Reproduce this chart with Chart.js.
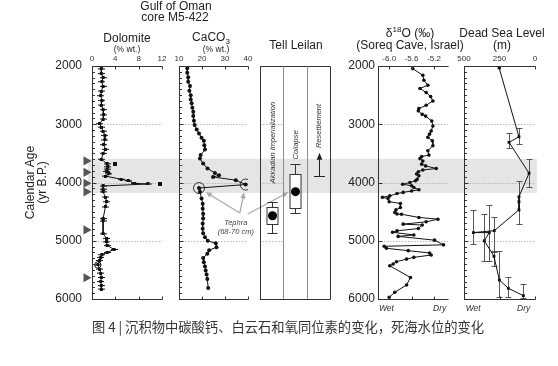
<!DOCTYPE html>
<html lang="zh">
<head>
<meta charset="utf-8">
<title>Gulf of Oman core M5-422</title>
<script src="https://cdn.jsdelivr.net/npm/chart.js@4.4.1/dist/chart.umd.min.js"></script>
<style>
  html, body { margin: 0; padding: 0; background: #fff; }
  #fig { position: relative; width: 558px; height: 366px; overflow: hidden; font-family: "Liberation Sans", Arial, sans-serif; color: #222; }
  #fig canvas { position: absolute; left: 0; top: 0; }
  .t { position: absolute; transform: translateX(-50%); white-space: nowrap; font-size: 12px; line-height: 12px; }
  .s { font-size: 8.5px; line-height: 9px; }
  sub, sup { font-size: 8px; line-height: 0; }
  .cap { font-family: "Noto Sans CJK SC", sans-serif; font-size: 13.3px; line-height: 14px; color: #333; }
</style>
</head>
<body>
<div id="fig">
  <canvas id="bg" width="558" height="366"></canvas>
  <canvas id="dolomite" width="558" height="366"></canvas>
  <canvas id="caco3" width="558" height="366"></canvas>
  <canvas id="tell" width="558" height="366"></canvas>
  <canvas id="d18o" width="558" height="366"></canvas>
  <canvas id="deadsea" width="558" height="366"></canvas>

  <div class="t" style="left:176px;top:0px">Gulf of Oman</div>
  <div class="t" style="left:175px;top:11px">core M5-422</div>
  <div class="t" style="left:127px;top:32px">Dolomite</div>
  <div class="t s" style="left:127px;top:45px">(% wt.)</div>
  <div class="t" style="left:211px;top:31px">CaCO<sub>3</sub></div>
  <div class="t s" style="left:216px;top:45px">(% wt.)</div>
  <div class="t" style="left:296px;top:39px">Tell Leilan</div>
  <div class="t" style="left:410px;top:27px">&delta;<sup>18</sup>O (&permil;)</div>
  <div class="t" style="left:410px;top:39px">(Soreq Cave, Israel)</div>
  <div class="t" style="left:502px;top:27px">Dead Sea Level</div>
  <div class="t" style="left:502px;top:39px">(m)</div>
  <div class="t cap" style="left:288px;top:320px">图 4 | 沉积物中碳酸钙、白云石和氧同位素的变化，死海水位的变化</div>
</div>
<script>
// calendar age axis (yr B.P.)
const ageTicks = [2000, 3000, 4000, 5000, 6000];
const gridYears = [3000, 4000, 5000];
const eventBandStart = 3600;
const eventBandEnd = 4175;

// Gulf of Oman core M5-422, dolomite (% wt.)
const dolomiteTicks = [0, 4, 8, 12];
const dolomiteYears = [2050, 2130, 2200, 2270, 2350, 2430, 2510, 2590, 2670, 2750,
  2840, 2910, 2990, 3050, 3120, 3190, 3270, 3350, 3430, 3500,
  3600, 3680, 3730, 3770, 3810, 3850, 3890, 3945, 3970, 4015,
  4025, 4060, 4115, 4160, 4250, 4330, 4420, 4620, 4660, 4880,
  4960, 5020, 5080, 5150, 5200, 5240, 5285, 5340, 5415, 5485,
  5555, 5630, 5700, 5770, 5830];
const dolomiteValues = [1.6, 1.6, 1.9, 1.7, 1.9, 1.6, 1.5, 1.7, 1.6, 1.9,
  2.0, 1.9, 1.3, 1.6, 1.9, 2.2, 2.2, 2.0, 2.3, 1.9,
  1.6, 2.6, 2.7, 2.6, 2.5, 2.9, 2.3, 5.0, 6.2, 7.3,
  9.6, 1.9, 1.9, 1.9, 2.3, 2.5, 2.3, 1.9, 1.9, 1.9,
  2.5, 2.5, 2.6, 3.8, 2.6, 1.7, 1.5, 1.3, 1.0, 1.3,
  1.5, 1.6, 1.5, 1.6, 1.6];
const dolomiteOutlierYears = [3690, 4020];
const dolomiteOutlierValues = [4.0, 11.6];
const dolomiteOpenYears = [5415];
const dolomiteOpenValues = [1.0];
const radiocarbonYears = [3630, 3825, 4015, 4160, 4815, 5635];

// CaCO3 (% wt.)
const caco3Ticks = [10, 20, 30, 40];
const caco3Years = [2040, 2115, 2195, 2270, 2345, 2425, 2500, 2575, 2640, 2715,
  2785, 2860, 2940, 3015, 3090, 3160, 3230, 3285, 3360, 3435,
  3530, 3590, 3675, 3760, 3835, 3875, 3905, 3960, 4035, 4095,
  4160, 4275, 4365, 4450, 4535, 4620, 4705, 4795, 4870, 4940,
  5000, 5045, 5110, 5165, 5225, 5295, 5370, 5440, 5510, 5580,
  5655, 5810];
const caco3Values = [13.6, 13.6, 14.0, 14.0, 14.8, 14.5, 15.1, 15.1, 15.5, 15.8,
  16.2, 16.2, 16.5, 16.8, 17.7, 18.7, 19.8, 20.8, 21.0, 21.3,
  19.4, 19.1, 20.5, 22.4, 25.6, 27.4, 24.8, 34.7, 39.0, 18.7,
  19.1, 19.8, 20.3, 20.3, 20.5, 20.5, 20.3, 20.3, 20.5, 21.3,
  22.5, 26.0, 26.3, 23.1, 22.3, 20.5, 20.8, 21.3, 21.6, 22.0,
  22.3, 22.7];
const tephraYears = [4035, 4095];
const tephraValues = [39.0, 18.7];
const tephraNote = ['Tephra', '(68-70 cm)'];
const tephraNoteValue = 34.7;
const tephraNoteYear = 4695;

// Tell Leilan
const tellEvents = ['Akkadian Imperialization', 'Collapse', 'Resettlement'];
const tellEventColumns = [0.5, 1.5, 2.5];
const tellLabelYears = [3315, 3355, 3030];
const tellMedians = [4570, 4157];
const tellQ1 = [4420, 3854];
const tellQ3 = [4712, 4438];
const tellLow = [4330, 3688];
const tellHigh = [4862, 4518];
const resettlementStart = 3890;
const resettlementEnd = 3490;

// d18O (permil), Soreq Cave, Israel
const d18oTicks = [-6.0, -5.6, -5.2];
const d18oYears = [2045, 2160, 2245, 2330, 2385, 2455, 2525, 2600, 2675, 2730,
  2770, 2830, 2860, 2945, 3030, 3115, 3170, 3225, 3285, 3370,
  3455, 3530, 3555, 3590, 3630, 3685, 3715, 3760, 3785, 3815,
  3855, 3885, 3945, 3970, 4000, 4030, 4055, 4085, 4125, 4145,
  4170, 4190, 4230, 4255, 4275, 4330, 4360, 4430, 4470, 4515,
  4540, 4545, 4600, 4630, 4675, 4715, 4730, 4790, 4830, 4855,
  4900, 4925, 4990, 5070, 5095, 5130, 5170, 5210, 5245, 5285,
  5315, 5360, 5400, 5430, 5630, 5760, 5885, 5970];
const d18oValues = [-5.58, -5.40, -5.38, -5.31, -5.45, -5.34, -5.26, -5.22, -5.34, -5.47,
  -5.48, -5.41, -5.35, -5.24, -5.22, -5.25, -5.28, -5.31, -5.23, -5.22,
  -5.31, -5.29, -5.42, -5.45, -5.40, -5.42, -5.35, -5.16, -5.40, -5.48,
  -5.51, -5.47, -5.50, -5.53, -5.63, -5.76, -5.60, -5.56, -5.47, -5.60,
  -5.75, -5.86, -5.99, -6.12, -6.02, -6.00, -5.80, -5.80, -5.88, -5.90,
  -5.86, -5.78, -5.47, -5.13, -5.34, -5.75, -5.41, -5.48, -5.86, -5.94,
  -5.56, -5.84, -5.19, -5.03, -6.09, -6.05, -5.66, -5.28, -5.25, -5.56,
  -5.69, -5.87, -5.93, -5.99, -5.62, -5.69, -5.90, -6.00];
const d18oBottomTicks = [-6.05, -5.1];
const wetDryLabels = ['Wet', 'Dry'];

// Dead Sea level (m)
const deadSeaTicks = [500, 250, 0];
const deadSeaYears = [2030, 3215, 3310, 3840, 4245, 4330, 4470, 4827, 4860, 4860, 5000, 5267, 5674, 5816, 5943];
const deadSeaValues = [253, 113, 183, 42, 113, 113, 113, 287, 434, 322, 357, 289, 251, 188, 82];
const deadSeaAgeLow = [null, 3056, 3142, 3600, null, 3970, null, 4600, 4470, 4390, 4545, 5170, 5170, 5630, 5735];
const deadSeaAgeHigh = [null, 3342, 3411, 4085, null, 4714, null, 5200, 5060, 5340, 5340, 5440, 5970, 5970, 5975];
const deadSeaBottomTicks = [435, 80];

const W = 558, H = 366, TOP = 66, BOTTOM = 299;
const FONT = '"Liberation Sans", Arial, sans-serif';
const INK = '#111';
const PANELS = {
  dolomite: { left: 92, right: 162 },
  caco3: { left: 179, right: 248 },
  tell: { left: 260, right: 330 },
  d18o: { left: 378, right: 448 },
  deadSea: { left: 464, right: 535 }
};
const BOX_HALF = 5.5;

Chart.defaults.font.family = FONT;
Chart.defaults.color = '#333';

function pts(values, years) {
  return years.map((y, i) => ({ x: values[i], y: y }));
}

// dolomite sample: small square with a thin horizontal error bar
function sampleMarker(w, sq) {
  const c = document.createElement('canvas');
  c.width = w;
  c.height = sq;
  const g = c.getContext('2d');
  g.fillStyle = INK;
  g.fillRect((w - sq) / 2, 0, sq, sq);
  g.fillRect(0, Math.floor(sq / 2), w, 1);
  return c;
}

function line(ctx, x0, y0, x1, y1) {
  ctx.beginPath();
  ctx.moveTo(x0, y0);
  ctx.lineTo(x1, y1);
  ctx.stroke();
}

// axis lines, inward ticks and dotted age grid of each panel
const framePlugin = {
  id: 'frame',
  beforeDatasetsDraw(chart, args, o) {
    const { ctx, chartArea: a, scales: { x, y } } = chart;
    const x0 = o.gridTo != null ? x.getPixelForValue(o.gridFrom) : a.left;
    const x1 = o.gridTo != null ? x.getPixelForValue(o.gridTo) : a.right;
    ctx.save();
    ctx.strokeStyle = '#b8b8b8';
    ctx.lineWidth = 1;
    ctx.setLineDash([1.5, 1.5]);
    gridYears.forEach(v => {
      const py = Math.round(y.getPixelForValue(v)) + 0.5;
      line(ctx, x0, py, x1, py);
    });
    ctx.restore();
  },
  afterDatasetsDraw(chart, args, o) {
    const { ctx, chartArea: a, scales: { x, y } } = chart;
    const L = Math.round(a.left) + 0.5, R = Math.round(a.right) + 0.5;
    const T = Math.round(a.top) + 0.5, B = Math.round(a.bottom) + 0.5;
    const sides = o.sides || [];
    ctx.save();
    ctx.strokeStyle = '#333';
    ctx.lineWidth = 1;
    if (sides.includes('left')) line(ctx, L, a.top, L, B);
    if (sides.includes('top')) line(ctx, L - 0.5, T, R, T);
    if (sides.includes('bottom')) line(ctx, L - 0.5, B, R, B);
    if (sides.includes('right')) line(ctx, R, T, R, B);
    (o.xTicks || []).forEach(v => {
      const px = Math.round(x.getPixelForValue(v)) + 0.5;
      line(ctx, px, T, px, T + 3);
      line(ctx, px, B, px, B - 3);
    });
    if (o.ageTicks) {
      const step = o.minor ? 100 : 1000;
      for (let v = 2000; v <= 6000; v += step) {
        const py = Math.round(y.getPixelForValue(v)) + 0.5;
        line(ctx, L, py, L + (v % 1000 === 0 ? 4 : 2.5), py);
      }
    }
    // radiocarbon dates: triangles pointing at the age axis
    if (o.dates) {
      const tip = x.getPixelForValue(0) - 0.5;
      ctx.fillStyle = '#555';
      o.dates.forEach(v => {
        const py = y.getPixelForValue(v);
        ctx.beginPath();
        ctx.moveTo(tip, py);
        ctx.lineTo(tip - 8, py - 4.6);
        ctx.lineTo(tip - 8, py + 4.6);
        ctx.closePath();
        ctx.fill();
      });
    }
    ctx.restore();
  }
};

function makePanel(id, p, cfg) {
  const topH = 14;
  const botH = cfg.bottom ? 20 : 0;
  const yW = cfg.yWidth || 10;
  const scales = {
    x: {
      type: 'linear', position: 'top', min: cfg.min, max: cfg.max, reverse: !!cfg.reverse,
      afterBuildTicks: s => { s.ticks = (cfg.ticks || []).map(v => ({ value: v })); },
      afterFit: s => { s.height = topH; },
      grid: { display: false, drawTicks: false }, border: { display: false },
      ticks: {
        display: !!cfg.ticks, autoSkip: false, maxRotation: 0, padding: 2,
        color: '#333', font: { size: 8 }, callback: cfg.tickFormat || (v => String(v))
      }
    },
    y: {
      type: 'linear', min: 2000, max: 6000, reverse: true,
      afterBuildTicks: s => { s.ticks = ageTicks.map(v => ({ value: v })); },
      afterFit: s => { s.width = yW; },
      grid: { display: false, drawTicks: false }, border: { display: false },
      ticks: { display: !!cfg.yLabels, padding: cfg.yPad || 0, color: '#222', font: { size: 12 }, callback: v => String(v) },
      title: cfg.yTitle
        ? { display: true, text: cfg.yTitle, padding: 0, color: '#222', font: { size: 12, lineHeight: 1 } }
        : { display: false }
    }
  };
  if (cfg.bottom) {
    scales.xb = {
      type: 'linear', axis: 'x', position: 'bottom', min: cfg.min, max: cfg.max, reverse: !!cfg.reverse,
      afterBuildTicks: s => { s.ticks = cfg.bottom.values.map(v => ({ value: v })); },
      afterFit: s => { s.height = botH; },
      grid: { display: false, drawTicks: false }, border: { display: false },
      ticks: {
        autoSkip: false, maxRotation: 0, padding: 5, color: '#333',
        font: { size: 8.5, style: 'italic' }, callback: (v, i) => cfg.bottom.labels[i]
      }
    };
  }
  return new Chart(document.getElementById(id), {
    type: 'scatter',
    data: { datasets: cfg.datasets || [] },
    options: {
      responsive: false, animation: false, events: [],
      layout: { padding: { left: p.left - yW, right: W - p.right, top: TOP - topH, bottom: H - BOTTOM - botH } },
      scales: scales,
      plugins: { legend: { display: false }, tooltip: { enabled: false }, frame: cfg.frame }
    },
    plugins: [framePlugin].concat(cfg.plugins || [])
  });
}

function profile(values, years, radius, style) {
  return {
    data: pts(values, years), showLine: true, borderColor: INK, borderWidth: 1,
    pointStyle: style || 'circle', pointRadius: radius,
    pointBackgroundColor: INK, pointBorderColor: INK, pointBorderWidth: 0
  };
}

// gray band of the 4.2 ka event across all panels
new Chart(document.getElementById('bg'), {
  type: 'bar',
  data: {
    labels: ['event'],
    datasets: [{ data: [[eventBandStart, eventBandEnd]], backgroundColor: '#e5e5e5', borderWidth: 0, barPercentage: 1, categoryPercentage: 1 }]
  },
  options: {
    responsive: false, animation: false, events: [],
    layout: { padding: { left: PANELS.dolomite.left - 4, right: W - PANELS.deadSea.right - 2, top: TOP, bottom: H - BOTTOM } },
    scales: { x: { display: false }, y: { display: false, min: 2000, max: 6000, reverse: true } },
    plugins: { legend: { display: false }, tooltip: { enabled: false } }
  }
});

makePanel('dolomite', PANELS.dolomite, {
  min: 0, max: 12, ticks: dolomiteTicks,
  yWidth: 67, yLabels: true, yPad: 10, yTitle: ['Calendar Age', '(yr B.P.)'],
  frame: { sides: ['left', 'top', 'bottom'], xTicks: dolomiteTicks, ageTicks: true, minor: true, dates: radiocarbonYears },
  datasets: [
    profile(dolomiteValues, dolomiteYears, 3, sampleMarker(7, 3)),
    { data: pts(dolomiteOutlierValues, dolomiteOutlierYears), pointStyle: sampleMarker(4, 4), pointRadius: 3 },
    { data: pts(dolomiteOpenValues, dolomiteOpenYears), pointRadius: 3.2, pointBackgroundColor: '#fff', pointBorderColor: INK, pointBorderWidth: 1 }
  ]
});

// Tell Leilan: box plots of event ages, labels, resettlement arrow
const tellPlugin = {
  id: 'tell',
  afterDatasetsDraw(chart) {
    const { ctx, chartArea: a, scales: { x, y } } = chart;
    ctx.save();
    ctx.strokeStyle = '#8c8c8c';
    ctx.lineWidth = 1;
    [1, 2].forEach(v => {
      const px = Math.round(x.getPixelForValue(v)) + 0.5;
      line(ctx, px, a.top, px, a.bottom);
    });
    ctx.strokeStyle = '#333';
    tellMedians.forEach((m, i) => {
      const cx = Math.round(x.getPixelForValue(tellEventColumns[i])) + 0.5;
      const yl = Math.round(y.getPixelForValue(tellLow[i])) + 0.5;
      const yh = Math.round(y.getPixelForValue(tellHigh[i])) + 0.5;
      const q1 = Math.round(y.getPixelForValue(tellQ1[i])) + 0.5;
      const q3 = Math.round(y.getPixelForValue(tellQ3[i])) + 0.5;
      line(ctx, cx, yl, cx, yh);
      line(ctx, cx - 5, yl, cx + 5, yl);
      line(ctx, cx - 5, yh, cx + 5, yh);
      ctx.fillStyle = '#fff';
      ctx.fillRect(cx - BOX_HALF, q1, BOX_HALF * 2, q3 - q1);
      ctx.strokeRect(cx - BOX_HALF, q1, BOX_HALF * 2, q3 - q1);
      ctx.fillStyle = '#000';
      ctx.beginPath();
      ctx.arc(cx, y.getPixelForValue(m), 4.5, 0, Math.PI * 2);
      ctx.fill();
    });
    ctx.fillStyle = '#333';
    ctx.font = 'italic 7.5px ' + FONT;
    ctx.textAlign = 'center';
    ctx.textBaseline = 'middle';
    tellEvents.forEach((t, i) => {
      ctx.save();
      ctx.translate(x.getPixelForValue(tellEventColumns[i]) + 1, y.getPixelForValue(tellLabelYears[i]));
      ctx.rotate(-Math.PI / 2);
      ctx.fillText(t, 0, 0);
      ctx.restore();
    });
    // resettlement arrow (points to younger ages)
    const ax = Math.round(x.getPixelForValue(tellEventColumns[2]) + 1) + 0.5;
    const y0 = Math.round(y.getPixelForValue(resettlementStart)) + 0.5;
    const y1 = y.getPixelForValue(resettlementEnd);
    ctx.strokeStyle = '#222';
    line(ctx, ax, y0, ax, y1 + 5);
    line(ctx, ax - 5.5, y0, ax + 5.5, y0);
    ctx.fillStyle = '#222';
    ctx.beginPath();
    ctx.moveTo(ax, y1);
    ctx.lineTo(ax - 2.8, y1 + 7);
    ctx.lineTo(ax + 2.8, y1 + 7);
    ctx.closePath();
    ctx.fill();
    ctx.restore();
  }
};

const tellChart = makePanel('tell', PANELS.tell, {
  min: 0, max: 3,
  frame: { sides: ['left', 'top', 'bottom', 'right'], gridFrom: 0, gridTo: 1 },
  plugins: [tellPlugin]
});

function arrow(ctx, x0, y0, x1, y1, gap) {
  const dx = x1 - x0, dy = y1 - y0, d = Math.hypot(dx, dy);
  const ux = dx / d, uy = dy / d;
  const tx = x1 - ux * gap, ty = y1 - uy * gap;
  line(ctx, x0, y0, tx - ux * 4, ty - uy * 4);
  ctx.beginPath();
  ctx.moveTo(tx, ty);
  ctx.lineTo(tx - ux * 6 - uy * 2.6, ty - uy * 6 + ux * 2.6);
  ctx.lineTo(tx - ux * 6 + uy * 2.6, ty - uy * 6 - ux * 2.6);
  ctx.closePath();
  ctx.fill();
}

// tephra note with arrows to the two tephra samples and the collapse age
const tephraPlugin = {
  id: 'tephra',
  afterDatasetsDraw(chart) {
    const { ctx, scales: { x, y } } = chart;
    const lx = x.getPixelForValue(tephraNoteValue), ly = y.getPixelForValue(tephraNoteYear);
    ctx.save();
    ctx.fillStyle = '#444';
    ctx.font = 'italic 7.5px ' + FONT;
    ctx.textAlign = 'center';
    ctx.textBaseline = 'middle';
    ctx.fillText(tephraNote[0], lx, ly);
    ctx.fillText(tephraNote[1], lx, ly + 9);
    ctx.strokeStyle = '#a8a8a8';
    ctx.fillStyle = '#a8a8a8';
    ctx.lineWidth = 1.3;
    tephraValues.forEach((v, i) => {
      arrow(ctx, lx + 4, ly - 10, x.getPixelForValue(v), y.getPixelForValue(tephraYears[i]), 8);
    });
    const tx = tellChart.scales.x, ty = tellChart.scales.y;
    arrow(ctx, lx + 12, ly - 9, tx.getPixelForValue(tellEventColumns[1]) - BOX_HALF, ty.getPixelForValue(tellMedians[1]), 1);
    ctx.restore();
  }
};

makePanel('caco3', PANELS.caco3, {
  min: 10, max: 40, ticks: caco3Ticks,
  frame: { sides: ['left', 'top', 'bottom'], xTicks: caco3Ticks, ageTicks: true, minor: true },
  datasets: [
    profile(caco3Values, caco3Years, 2),
    { data: pts(tephraValues, tephraYears), pointRadius: 5.5, pointBackgroundColor: 'rgba(0,0,0,0)', pointBorderColor: '#333', pointBorderWidth: 1 }
  ],
  plugins: [tephraPlugin]
});

makePanel('d18o', PANELS.d18o, {
  min: -6.2, max: -4.95, ticks: d18oTicks, tickFormat: v => v.toFixed(1),
  yWidth: 40, yLabels: true, yPad: 3,
  bottom: { values: d18oBottomTicks, labels: wetDryLabels },
  frame: { sides: ['left', 'top', 'bottom'], xTicks: d18oTicks, ageTicks: true, minor: false },
  datasets: [profile(d18oValues, d18oYears, 1.8)]
});

// age uncertainty bars of the lake level points
const ageErrorPlugin = {
  id: 'ageErrors',
  beforeDatasetsDraw(chart) {
    const { ctx, scales: { x, y } } = chart;
    ctx.save();
    ctx.strokeStyle = '#444';
    ctx.lineWidth = 0.9;
    deadSeaValues.forEach((v, i) => {
      if (deadSeaAgeLow[i] == null) return;
      const px = Math.round(x.getPixelForValue(v)) + 0.5;
      const y0 = Math.round(y.getPixelForValue(deadSeaAgeLow[i])) + 0.5;
      const y1 = Math.round(y.getPixelForValue(deadSeaAgeHigh[i])) + 0.5;
      line(ctx, px, y0, px, y1);
      line(ctx, px - 3, y0, px + 3, y0);
      line(ctx, px - 3, y1, px + 3, y1);
    });
    ctx.restore();
  }
};

makePanel('deadsea', PANELS.deadSea, {
  min: 0, max: 500, reverse: true, ticks: deadSeaTicks,
  bottom: { values: deadSeaBottomTicks, labels: wetDryLabels },
  frame: { sides: ['left', 'top', 'bottom'], xTicks: deadSeaTicks, ageTicks: true, minor: true },
  datasets: [profile(deadSeaValues, deadSeaYears, 2, 'rect')],
  plugins: [ageErrorPlugin]
});
</script>
</body>
</html>
